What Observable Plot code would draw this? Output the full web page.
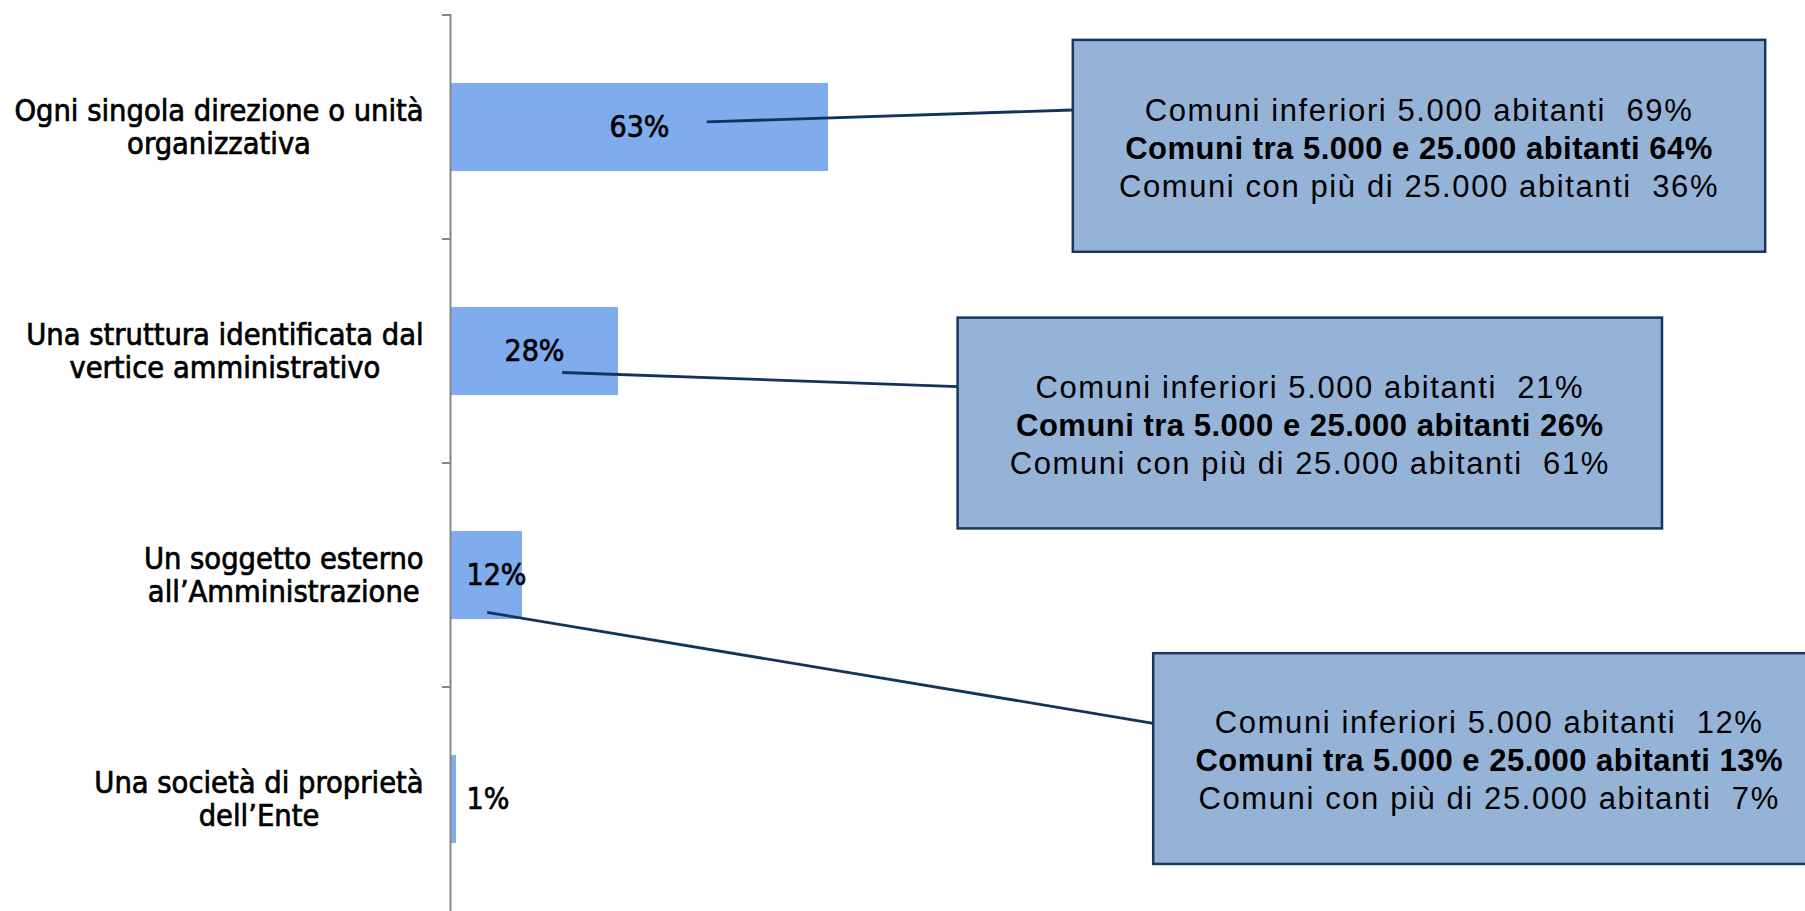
<!DOCTYPE html>
<html>
<head>
<meta charset="utf-8">
<script src="https://cdn.jsdelivr.net/npm/d3@7"></script>
<script src="https://cdn.jsdelivr.net/npm/@observablehq/plot@0.6"></script>
<style>
  html, body { margin: 0; padding: 0; background: #ffffff; }
  #chart svg { display: block; }
</style>
</head>
<body>
<div id="chart"></div>
<script>
// ---- data ----
const categories = [
  "Ogni singola direzione o unità organizzativa",
  "Una struttura identificata dal vertice amministrativo",
  "Un soggetto esterno all’Amministrazione",
  "Una società di proprietà dell’Ente"
];
const categoryLines = [
  ["Ogni singola direzione o unità", "organizzativa"],
  ["Una struttura identificata dal", "vertice amministrativo"],
  ["Un soggetto esterno", "all’Amministrazione"],
  ["Una società di proprietà", "dell’Ente"]
];
const values = [63, 28, 12, 1];

// breakdown shown in the callouts (first three categories)
const groupNames = [
  "Comuni inferiori 5.000 abitanti",
  "Comuni tra 5.000 e 25.000 abitanti",
  "Comuni con più di 25.000 abitanti"
];
const smallTowns = [69, 21, 12];
const mediumTowns = [64, 26, 13];
const largeTowns = [36, 61, 7];

// ---- callout layout (x in % units, y as fraction of the category band) ----
const calloutLayout = [
  {box: [103.8, 219.2, 0.111, 1.057], from: [42.8, 0.477], toY: 0.424},
  {box: [84.6, 202.0, 0.351, 1.292], from: [18.7, 0.596], toY: 0.659},
  {box: [117.2, 229.2, 0.849, 1.790], from: [6.2, 0.667], toY: 1.162}
];

const bars = categories.map((c, i) => ({category: c, value: values[i]}));

const labelFont = "'DejaVu Sans Condensed', 'DejaVu Sans', sans-serif";
const boxFont = "'Liberation Sans', Arial, sans-serif";
const labelSize = 30.5;

const measureCtx = document.createElement("canvas").getContext("2d");
function textWidth(s, font) { measureCtx.font = font; return measureCtx.measureText(s).width; }

function annotations(index, scales, values_, dimensions) {
  const {x, y} = scales;
  const bw = typeof y.bandwidth === "function" ? y.bandwidth()
    : (dimensions.height - dimensions.marginTop - dimensions.marginBottom) / categories.length;
  const g = d3.create("svg:g");
  // tick marks between categories
  for (const c of categories) {
    g.append("line")
      .attr("x1", x(0) - 8).attr("x2", x(0))
      .attr("y1", y(c)).attr("y2", y(c))
      .attr("stroke", "#868686").attr("stroke-width", 2);
  }
  // category labels: block right-aligned, lines centred
  categories.forEach((c, i) => {
    const lines = categoryLines[i];
    const w = Math.max(...lines.map(s => textWidth(s, `${labelSize}px ${labelFont}`))) + 0.7;
    const cx = x(0) - 26 - w / 2;
    const cy = y(c) + bw / 2;
    const lh = 33.5;
    lines.forEach((s, k) => {
      g.append("text")
        .attr("x", cx).attr("y", cy + (k - (lines.length - 1) / 2) * lh)
        .attr("dy", "0.35em").attr("text-anchor", "middle")
        .attr("font-family", labelFont).attr("font-size", labelSize)
        .attr("fill", "#000").attr("stroke", "#000").attr("stroke-width", 0.7)
        .text(s);
    });
  });
  calloutLayout.forEach((L, i) => {
    const y0 = y(categories[i]);
    const bx1 = x(L.box[0]), bx2 = x(L.box[1]);
    const by1 = y0 + L.box[2] * bw, by2 = y0 + L.box[3] * bw;
    g.append("line")
      .attr("x1", x(L.from[0])).attr("y1", y0 + L.from[1] * bw)
      .attr("x2", bx1).attr("y2", y0 + L.toY * bw)
      .attr("stroke", "#11345C").attr("stroke-width", 2.8);
    g.append("rect")
      .attr("x", bx1).attr("y", by1)
      .attr("width", bx2 - bx1).attr("height", by2 - by1)
      .attr("fill", "#95B3D7").attr("stroke", "#17375E").attr("stroke-width", 2.5);
    const cx = (bx1 + bx2) / 2, cy = (by1 + by2) / 2 + 2;
    const lines = [
      {t: `${groupNames[0]}  ${smallTowns[i]}%`, w: "normal", ls: "1.6px"},
      {t: `${groupNames[1]} ${mediumTowns[i]}%`, w: "bold", ls: "0.5px"},
      {t: `${groupNames[2]}  ${largeTowns[i]}%`, w: "normal", ls: "1.6px"}
    ];
    lines.forEach((l, k) => {
      g.append("text")
        .attr("x", cx).attr("y", cy + (k - 1) * 38)
        .attr("text-anchor", "middle").attr("dy", "0.35em")
        .attr("font-family", boxFont).attr("font-size", 31)
        .attr("font-weight", l.w)
        .attr("letter-spacing", l.ls)
        .style("white-space", "pre")
        .attr("fill", "#000")
        .text(l.t);
    });
  });
  return g.node();
}

const chart = Plot.plot({
  width: 1805,
  height: 911,
  marginLeft: 450,
  marginRight: 755,
  marginTop: 14,
  marginBottom: 0,
  style: {background: "#ffffff"},
  x: {domain: [0, 100], axis: null},
  y: {domain: categories, axis: null, padding: 0},
  marks: [
    Plot.barX(bars, {
      y: "category", x: "value",
      fill: "#7FACEE",
      insetTop: 68, insetBottom: 68
    }),
    Plot.ruleX([0], {stroke: "#868686", strokeWidth: 2}),
    Plot.text(bars.filter(d => d.value >= 20), {
      y: "category", x: d => d.value / 2, text: d => `${d.value}%`,
      textAnchor: "middle", fontFamily: labelFont, fontSize: 30,
      fill: "#000", stroke: "#000", strokeWidth: 0.7
    }),
    Plot.text(bars.filter(d => d.value < 20), {
      y: "category", x: 0, text: d => `${d.value}%`, dx: 16,
      textAnchor: "start", fontFamily: labelFont, fontSize: 30,
      fill: "#000", stroke: "#000", strokeWidth: 0.7
    }),
    annotations
  ]
});
document.getElementById("chart").appendChild(chart);
</script>
</body>
</html>
